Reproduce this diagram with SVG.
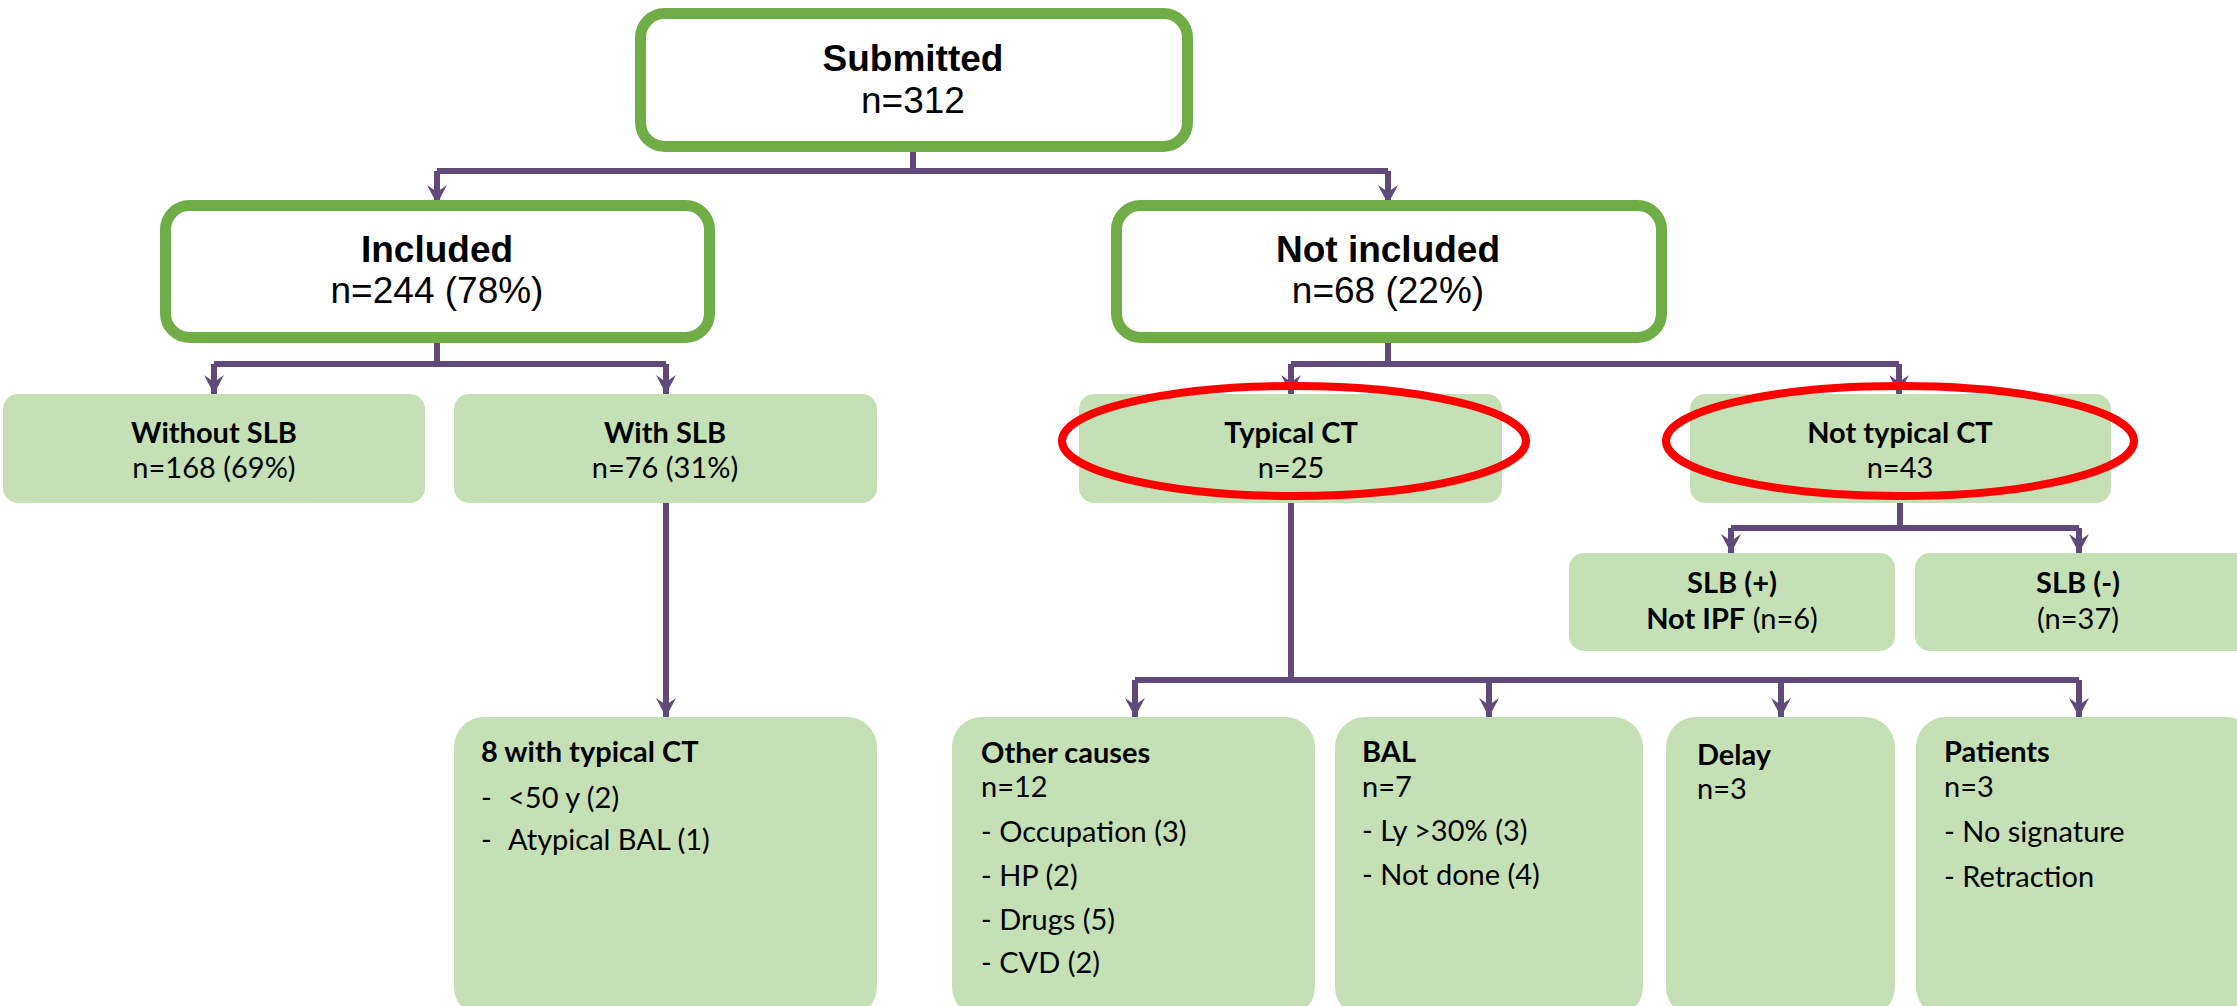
<svg xmlns="http://www.w3.org/2000/svg" width="2237" height="1006" viewBox="0 0 2237 1006">
<style>
.main{fill:#ffffff;stroke:#70ad47;stroke-width:11}
.box{fill:#c5e0b4;stroke:none}
.ring{fill:none;stroke:#ff0000;stroke-width:8}
.con{fill:none;stroke:#604a7b;stroke-width:6}
.t1{font-family:"Liberation Sans",Arial,sans-serif;font-size:37px;fill:#000;text-anchor:middle}
.t2{font-family:Lato,"Open Sans",sans-serif;font-size:29px;fill:#000}
.c{text-anchor:middle}
.b{font-weight:bold}
</style>
<defs>
<marker id="ah" markerUnits="userSpaceOnUse" markerWidth="24" markerHeight="24" viewBox="-22 -12 24 24" refX="0" refY="0" orient="auto" overflow="visible">
<path d="M0,0 L-19,-10 L-12,0 L-19,10 Z" fill="#604a7b"/>
</marker>
</defs>
<g id="connectors">
<path class="con" d="M913,152 V171 M437,171 H1388"/>
<path class="con" d="M437,171 V204" marker-end="url(#ah)"/>
<path class="con" d="M1388,171 V204" marker-end="url(#ah)"/>
<path class="con" d="M437,343 V364 M214,364 H666"/>
<path class="con" d="M214,364 V394" marker-end="url(#ah)"/>
<path class="con" d="M666,364 V394" marker-end="url(#ah)"/>
<path class="con" d="M1388,343 V364 M1291,364 H1899"/>
<path class="con" d="M1291,364 V394" marker-end="url(#ah)"/>
<path class="con" d="M1899,364 V394" marker-end="url(#ah)"/>
<path class="con" d="M1900,503 V528 M1731,528 H2079"/>
<path class="con" d="M1731,528 V553" marker-end="url(#ah)"/>
<path class="con" d="M2079,528 V553" marker-end="url(#ah)"/>
<path class="con" d="M666,503 V717" marker-end="url(#ah)"/>
<path class="con" d="M1291,503 V680 M1135,680 H2079"/>
<path class="con" d="M1135,680 V717" marker-end="url(#ah)"/>
<path class="con" d="M1489,680 V717" marker-end="url(#ah)"/>
<path class="con" d="M1781,680 V717" marker-end="url(#ah)"/>
<path class="con" d="M2079,680 V717" marker-end="url(#ah)"/>
</g>
<g id="submitted">
<rect class="main" x="640.5" y="13.5" width="547" height="133" rx="24"/>
<text class="t1 b" x="913" y="71">Submitted</text>
<text class="t1" x="913" y="113">n=312</text>
</g>
<g id="included">
<rect class="main" x="165.5" y="205.5" width="544" height="132" rx="24"/>
<text class="t1 b" x="437" y="262">Included</text>
<text class="t1" x="437" y="303">n=244 (78%)</text>
</g>
<g id="not-included">
<rect class="main" x="1116.5" y="205.5" width="545" height="132" rx="24"/>
<text class="t1 b" x="1388" y="262">Not included</text>
<text class="t1" x="1388" y="303">n=68 (22%)</text>
</g>
<g id="without-slb">
<rect class="box" x="3" y="394" width="422" height="109" rx="15"/>
<text class="t2 c b" x="214" y="443">Without SLB</text>
<text class="t2 c" x="214" y="478">n=168 (69%)</text>
</g>
<g id="with-slb">
<rect class="box" x="454" y="394" width="423" height="109" rx="15"/>
<text class="t2 c b" x="665" y="443">With SLB</text>
<text class="t2 c" x="665" y="478">n=76 (31%)</text>
</g>
<g id="typical-ct">
<rect class="box" x="1079" y="394" width="423" height="109" rx="15"/>
<text class="t2 c b" x="1291" y="443">Typical CT</text>
<text class="t2 c" x="1291" y="478">n=25</text>
<ellipse class="ring" cx="1294" cy="441" rx="232" ry="55"/>
</g>
<g id="not-typical-ct">
<rect class="box" x="1690" y="394" width="421" height="109" rx="15"/>
<text class="t2 c b" x="1900" y="443">Not typical CT</text>
<text class="t2 c" x="1900" y="478">n=43</text>
<ellipse class="ring" cx="1900" cy="441" rx="234" ry="55"/>
</g>
<g id="slb-pos">
<rect class="box" x="1569" y="553" width="326" height="98" rx="15"/>
<text class="t2 c b" x="1732" y="593">SLB (+)</text>
<text class="t2 c" x="1732" y="629"><tspan class="b">Not IPF</tspan> (n=6)</text>
</g>
<g id="slb-neg">
<rect class="box" x="1915" y="553" width="340" height="98" rx="15"/>
<text class="t2 c b" x="2078" y="593">SLB (-)</text>
<text class="t2 c" x="2078" y="629">(n=37)</text>
</g>
<g id="typical-8">
<rect class="box" x="454" y="717" width="423" height="300" rx="30"/>
<text class="t2 b" x="481" y="762">8 with typical CT</text>
<text class="t2" y="808"><tspan x="481">-</tspan><tspan x="508">&lt;50 y (2)</tspan></text>
<text class="t2" y="850"><tspan x="481">-</tspan><tspan x="508">Atypical BAL (1)</tspan></text>
</g>
<g id="other-causes">
<rect class="box" x="952" y="717" width="363" height="300" rx="30"/>
<text class="t2 b" x="981" y="763">Other causes</text>
<text class="t2" x="981" y="797">n=12</text>
<text class="t2" x="981" y="842">- Occupation (3)</text>
<text class="t2" x="981" y="886">- HP (2)</text>
<text class="t2" x="981" y="930">- Drugs (5)</text>
<text class="t2" x="981" y="973">- CVD (2)</text>
</g>
<g id="bal">
<rect class="box" x="1335" y="717" width="308" height="300" rx="30"/>
<text class="t2 b" x="1362" y="762">BAL</text>
<text class="t2" x="1362" y="797">n=7</text>
<text class="t2" x="1362" y="841">- Ly &gt;30% (3)</text>
<text class="t2" x="1362" y="885">- Not done (4)</text>
</g>
<g id="delay">
<rect class="box" x="1666" y="717" width="229" height="300" rx="30"/>
<text class="t2 b" x="1697" y="765">Delay</text>
<text class="t2" x="1697" y="799">n=3</text>
</g>
<g id="patients">
<rect class="box" x="1916" y="717" width="340" height="300" rx="30"/>
<text class="t2 b" x="1944" y="762">Patients</text>
<text class="t2" x="1944" y="797">n=3</text>
<text class="t2" x="1944" y="842">- No signature</text>
<text class="t2" x="1944" y="887">- Retraction</text>
</g>
</svg>
